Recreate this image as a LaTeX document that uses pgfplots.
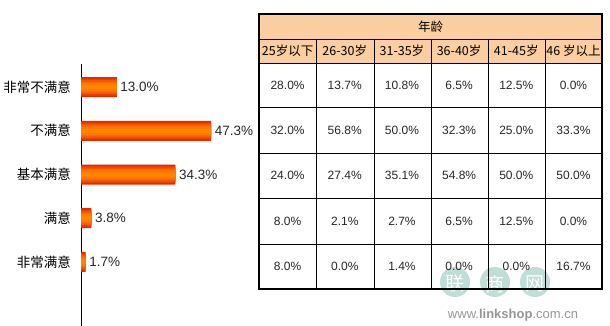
\documentclass[border=0pt]{standalone}
\usepackage{pgfplots}
\usepackage{pgfplotstable}
\pgfplotsset{compat=1.18}
\usepackage{fontspec}
\setmainfont{Liberation Sans}
\newfontfamily\cjk{Noto Sans CJK SC}
\definecolor{hdr}{RGB}{251,206,160}
\definecolor{wmteal}{RGB}{190,222,215}
\definecolor{wmtext}{RGB}{150,150,150}
\definecolor{bA}{RGB}{222,42,0}
\definecolor{bB}{RGB}{236,62,0}
\definecolor{bC}{RGB}{246,85,0}
\definecolor{bD}{RGB}{252,105,0}
\definecolor{bE}{RGB}{255,122,0}
\definecolor{bF}{RGB}{255,134,0}
\pgfplotstableread{
p v
1 1.7
2 3.8
3 34.3
4 47.3
5 13.0
}\bardata
\begin{document}
\begin{tikzpicture}[x=1pt,y=1pt]
\path[use as bounding box] (0,0) rectangle (610,326);
% bar chart
\begin{axis}[
  at={(81pt,0pt)}, anchor=south west,
  scale only axis, width=137.5pt, height=262pt,
  xmin=0, xmax=50, ymin=-0.463, ymax=5.526,
  axis y line=left, axis x line=none,
  axis line style={-, black, line width=0.8pt},
  ytick={1,2,3,4,5},
  yticklabels={非常满意,满意,基本满意,不满意,非常不满意},
  major tick length=0pt,
  yticklabel style={font=\cjk\fontsize{13.5}{15}\selectfont, anchor=east, inner sep=0pt, xshift=-10pt},
  clip=false,
  xbar, bar shift=0pt,
  /pgf/number format/assume math mode=true,
]
\addplot[draw=none, fill=bA, bar width=20pt] table[x=v,y=p]{\bardata};
\addplot[draw=none, fill=bB, bar width=17pt] table[x=v,y=p]{\bardata};
\addplot[draw=none, fill=bC, bar width=14pt] table[x=v,y=p]{\bardata};
\addplot[draw=none, fill=bD, bar width=11pt] table[x=v,y=p]{\bardata};
\addplot[draw=none, fill=bE, bar width=8pt] table[x=v,y=p]{\bardata};
\addplot[draw=none, fill=bF, bar width=4pt,
  point meta=x,
  nodes near coords={\pgfmathprintnumber[fixed,fixed zerofill,precision=1]{\pgfplotspointmeta}\%},
  nodes near coords style={anchor=west, inner sep=0pt, xshift=3.5pt, font=\fontsize{13.5}{15}\selectfont, text=black!85},
] table[x=v,y=p]{\bardata};
\end{axis}
% watermark
\fill[wmteal] (455,44) circle (15);
\fill[wmteal] (495,44) circle (15);
\fill[wmteal] (535,44) circle (15);
\tikzset{wm/.style={text=white, inner sep=0pt, font=\cjk\fontsize{19}{20}\selectfont}}
\node[wm] at (455,42) {联};
\node[wm] at (495,42) {商};
\node[wm] at (535,42) {网};
\node[text=wmtext, font=\fontsize{13}{15}\selectfont] at (513,11) {www.\textbf{linkshop}.com.cn};
% table
\fill[hdr] (259,312) rectangle (602,263);
\foreach \x in {316,374,431,488,545} \draw[line width=0.8pt] (\x,287) -- (\x,37);
\foreach \y in {287,263,219,173,128,82} \draw[line width=0.8pt] (259,\y) -- (602,\y);
\draw[line width=1.6pt] (259,312) rectangle (602,37);
\node[font=\cjk\fontsize{12.5}{14}\selectfont] at (430.5,299.5) {年龄};
\foreach \t [count=\i] in {25岁以下,26-30岁,31-35岁,36-40岁,41-45岁,46 岁以上}
  \node[font=\cjk\fontsize{12.5}{14}\selectfont, inner sep=0pt] at ({259+57.17*(\i-0.5)},275) {\t};
\tikzset{cell/.style={font=\fontsize{12}{14}\selectfont, text=black!85, inner sep=1pt}}
\foreach \t [count=\i] in {28.0,13.7,10.8,6.5,12.5,0.0}
  \node[cell] at ({259+57.17*(\i-0.5)},241) {\t\%};
\foreach \t [count=\i] in {32.0,56.8,50.0,32.3,25.0,33.3}
  \node[cell] at ({259+57.17*(\i-0.5)},196) {\t\%};
\foreach \t [count=\i] in {24.0,27.4,35.1,54.8,50.0,50.0}
  \node[cell] at ({259+57.17*(\i-0.5)},150.5) {\t\%};
\foreach \t [count=\i] in {8.0,2.1,2.7,6.5,12.5,0.0}
  \node[cell] at ({259+57.17*(\i-0.5)},105) {\t\%};
\foreach \t [count=\i] in {8.0,0.0,1.4,0.0,0.0,16.7}
  \node[cell] at ({259+57.17*(\i-0.5)},59.5) {\t\%};
\end{tikzpicture}
\end{document}
